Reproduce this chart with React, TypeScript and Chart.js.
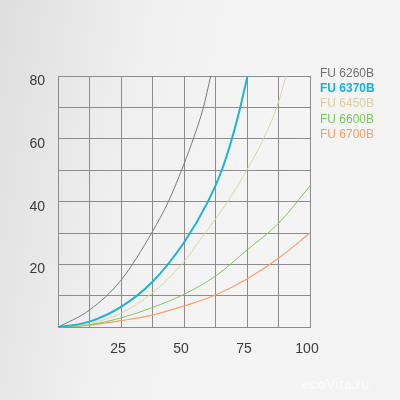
import React, { useEffect, useRef } from "react";
import { Chart, registerables } from "chart.js";

Chart.register(...registerables);

const seriesNames = ["FU 6260В", "FU 6370В", "FU 6450В", "FU 6600В", "FU 6700В"];
const seriesColors = ["#7a7a7a", "#1db3d3", "#ddd3a6", "#82c663", "#f3a069"];
const legendColors = ["#6f6f6f", "#14b2d6", "#d8cfa2", "#7cc35a", "#f39e62"];
const lineWidths = [1, 2, 1, 1, 1.2];

const xGray = [0, 12.5, 25, 37.5, 43.8, 50, 53.7, 57.7, 60.6];
const yGray = [0, 5.5, 15, 30.5, 40, 52, 60, 70, 80];

const xCyan = [0, 12.5, 25, 37.5, 50, 59.5, 65, 69, 72.3, 75.2];
const yCyan = [0, 1.8, 6.5, 14.5, 27, 40, 50, 60, 70, 80];

const xBeige = [0, 12.5, 25, 37.5, 49, 58.4, 67.3, 74.9, 81.5, 86.8, 90.5];
const yBeige = [0, 1.2, 4.5, 11, 20, 30, 40, 50, 60, 70, 80];

const xGreen = [0, 12.5, 25, 37.5, 50, 62.5, 75, 87.5, 100];
const yGreen = [0, 0.8, 3, 6.3, 10.5, 16.3, 24.6, 33.1, 45];

const xOrange = [0, 12.5, 25, 37.5, 50, 62.5, 75, 87.5, 100];
const yOrange = [0, 0.7, 2.1, 3.9, 6.8, 10.3, 15.4, 22, 30];

const xTickLabels = [25, 50, 75, 100];
const yTickLabels = [20, 40, 60, 80];

const allX = [xGray, xCyan, xBeige, xGreen, xOrange];
const allY = [yGray, yCyan, yBeige, yGreen, yOrange];

export default function App() {
  const ref = useRef<HTMLCanvasElement>(null);

  useEffect(() => {
    if (!ref.current) return;
    const datasets = seriesNames.map((name, i) => ({
      label: name,
      data: allX[i].map((x, j) => ({ x, y: allY[i][j] })),
      borderColor: seriesColors[i],
      backgroundColor: seriesColors[i],
      borderWidth: lineWidths[i],
      pointRadius: 0,
      cubicInterpolationMode: "monotone" as const,
      fill: false,
    }));
    const font = { family: "'Liberation Sans', Arial, sans-serif", size: 14 };
    const chart = new Chart(ref.current, {
      type: "line",
      data: { datasets },
      options: {
        animation: false,
        responsive: false,
        layout: { padding: { top: 76, right: 90, left: 0, bottom: 0 } },
        plugins: { legend: { display: false }, tooltip: { enabled: false } },
        scales: {
          x: {
            type: "linear",
            min: 0,
            max: 100,
            afterFit: (s: any) => {
              s.height = 72.7;
            },
            grid: { color: "#8c8c8c", lineWidth: 1, drawTicks: false },
            border: { color: "#8c8c8c" },
            ticks: {
              stepSize: 12.5,
              autoSkip: false,
              maxRotation: 0,
              padding: 13,
              labelOffset: -3,
              color: "#3a3a3a",
              font,
              callback: (v: any) => (xTickLabels.includes(Number(v)) ? String(v) : ""),
            },
          },
          y: {
            type: "linear",
            min: 0,
            max: 80,
            afterFit: (s: any) => {
              s.width = 58;
            },
            grid: { color: "#8c8c8c", lineWidth: 1, drawTicks: false },
            border: { color: "#8c8c8c" },
            ticks: {
              stepSize: 10,
              autoSkip: false,
              padding: 13,
              labelOffset: 5,
              color: "#3a3a3a",
              font,
              callback: (v: any) => (yTickLabels.includes(Number(v)) ? String(v) : ""),
            },
          },
        },
      },
    });
    return () => chart.destroy();
  }, []);

  return (
    <div
      style={{
        position: "fixed",
        left: 0,
        top: 0,
        width: 400,
        height: 400,
        overflow: "hidden",
        background:
          "linear-gradient(100deg, #dedede 0%, #e8e8e8 18%, #f1f1f1 35%, #f4f4f4 60%, #f3f3f3 100%)",
      }}
    >
      <canvas ref={ref} width={400} height={400} style={{ position: "absolute", left: 0, top: 0 }} />
      {seriesNames.map((n, i) => (
        <div
          key={n}
          style={{
            position: "absolute",
            left: 320,
            top: 66 + i * 15.2,
            fontFamily: "'Liberation Sans', Arial, sans-serif",
            fontSize: 12,
            fontWeight: i === 1 ? "bold" : "normal",
            color: legendColors[i],
            whiteSpace: "nowrap",
            lineHeight: "14px",
          }}
        >
          {n}
        </div>
      ))}
      <div
        style={{
          position: "absolute",
          left: 302,
          top: 376,
          fontFamily: "'Liberation Sans', Arial, sans-serif",
          fontSize: 14,
          fontWeight: "bold",
          color: "rgba(255,255,255,0.55)",
        }}
      >
        ecoVita.ru
      </div>
    </div>
  );
}
